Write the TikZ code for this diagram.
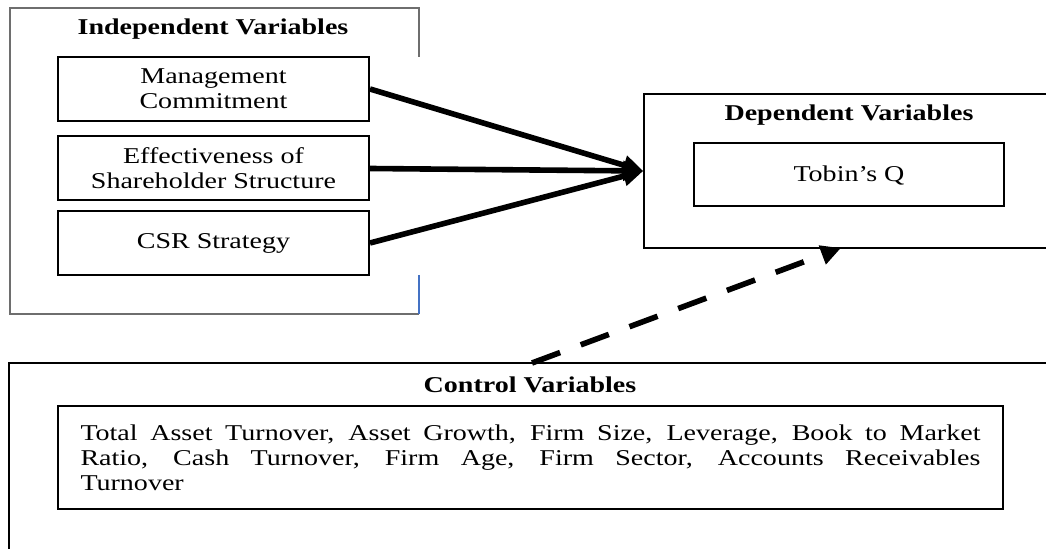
\documentclass[tikz,border=0pt]{standalone}
\usepackage{fontspec}
\setmainfont[FakeStretch=1.24]{Liberation Serif}
\usetikzlibrary{arrows.meta}
\definecolor{framegray}{RGB}{110,110,110}
\definecolor{frameblue}{RGB}{68,114,196}
\begin{document}
\begin{tikzpicture}[x=0.5pt,y=-0.5pt,font=\fontsize{11.3}{12.5}\selectfont,
	varbox/.style={draw,line width=1pt,minimum width=155.5pt,minimum height=32pt,align=center,inner sep=0pt},
	outerbox/.style={draw,line width=0.75pt,inner sep=0pt},
	head/.style={font=\fontsize{11.3}{12.5}\selectfont\bfseries},
	link/.style={line width=2.8pt,-{Triangle[length=10pt,width=9.5pt]}}]
	\clip (0,0) rectangle (1046,549);
	\draw[framegray,line width=0.75pt] (419,57)--(419,8)--(10,8)--(10,314)--(419,314);
	\draw[frameblue,line width=0.75pt] (419,275)--(419,314);
	\node[head] (indep) at (213,29) {Independent Variables};
	\node[varbox] (mc) at (213.5,89) {Management\\Commitment};
	\node[varbox] (es) at (213.5,168.5) {Effectiveness of\\Shareholder Structure};
	\node[varbox] (csr) at (213.5,243) {CSR Strategy};
	\node[outerbox,minimum width=220pt,minimum height=77pt] (dep) at (864,171) {};
	\node[head] (deptitle) at (849,115) {Dependent Variables};
	\node[varbox,minimum width=155pt,minimum height=31.5pt,text depth=1pt] (tq) at (849,174.5) {Tobin's Q};
	\node[outerbox,minimum width=545.5pt,minimum height=118.5pt] (ctrl) at (554.5,481.5) {};
	\node[head] (ctrltitle) at (530,385) {Control Variables};
	\node[draw,line width=1pt,minimum width=472.5pt,minimum height=51.5pt,text width=450pt,align=justify,inner sep=0pt] (cv) at (530.5,457.5) {Total Asset Turnover, Asset Growth, Firm Size, Leverage, Book to Market\linebreak Ratio, Cash Turnover, Firm Age, Firm Sector, Accounts Receivables\linebreak Turnover};
	\coordinate (cvtop) at (532,363);
	\coordinate (depin) at (841,248);
	\draw[link] (mc.east) -- (dep.west);
	\draw[link] (es.east) -- (dep.west);
	\draw[link] (csr.east) -- (dep.west);
	\draw[link,dash pattern=on 15pt off 11pt] (cvtop) -- (depin);
\end{tikzpicture}
\end{document}
